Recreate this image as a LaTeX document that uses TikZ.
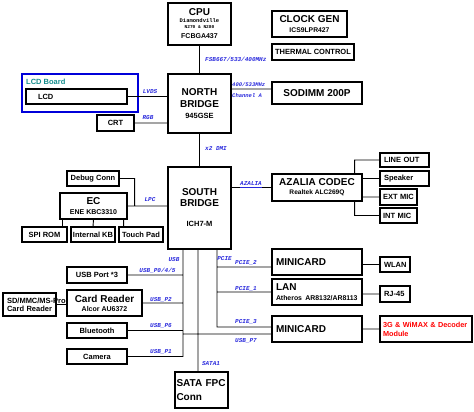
\documentclass[tikz,border=0pt]{standalone}
\usepackage{fontspec}
\setmainfont{Liberation Sans}
\newfontfamily\monofont{Liberation Mono}
\usetikzlibrary{positioning}

\definecolor{boardteal}{RGB}{20,140,140}
\definecolor{busblue}{RGB}{40,40,220}
\newcommand{\fsz}[2]{\fontsize{#1}{#2}\selectfont}

\tikzset{
  blk/.style={rectangle, draw, line width=1.1pt, inner sep=1pt, align=center,
    font=\bfseries\fsz{7.5}{8.5}},
  lbox/.style={blk, inner xsep=4pt, text width=#1, align=left},
  bus/.style={line width=0.9pt},
  lbl/.style={text=busblue, inner sep=0pt,
    font=\monofont\bfseries\itshape\fsz{6}{6}},
}

\begin{document}
\begin{tikzpicture}[x=1pt,y=-1pt]
	\useasboundingbox (0,0) rectangle (474,412);

	% north side
	\node at (199.5,24) [blk, minimum width=63pt, minimum height=42pt, font=\bfseries\fsz{10}{6}] (cpu)
	  {CPU\\[1pt]{\monofont\fsz{5.5}{6}Diamondville}\\{\monofont\fsz{4.5}{6}N270 \& N280}\\[4pt]{\fsz{7}{8}FCBGA437}};
	\node at (309.5,24) [blk, minimum width=75pt, minimum height=26pt, font=\bfseries\fsz{10}{10}] (clk)
	  {CLOCK GEN\\{\fsz{6.8}{8}ICS9LPR427}};
	\node at (313,52) [blk, minimum width=82pt, minimum height=16pt] (therm) {THERMAL CONTROL};
	\node at (199.5,103.5) [blk, minimum width=63pt, minimum height=59pt, font=\bfseries\fsz{10}{12}] (nb)
	  {NORTH\\BRIDGE\\[-1pt]{\fsz{7.5}{9}945GSE}};
	\node at (317,93) [blk, minimum width=90pt, minimum height=22pt, font=\bfseries\fsz{10}{12}] (dimm) {SODIMM 200P};

	\node at (80,93) [rectangle, draw=blue!85!black, line width=2pt, minimum width=116pt, minimum height=38pt] (lcdbrd) {};
	\node at (26,82) [anchor=west, inner sep=0pt, text=boardteal, font=\bfseries\fsz{7.5}{8}] (lcdlbl) {LCD Board};
	\node at (76.5,96.5) [blk, inner xsep=12pt, text width=77pt, minimum height=15pt, align=left] (lcd) {LCD};
	\node at (115.5,123) [blk, minimum width=37pt, minimum height=16pt] (crt) {CRT};

	% south bridge and friends
	\node at (199.5,208) [blk, minimum width=63pt, minimum height=82pt, font=\bfseries\fsz{10}{11}] (sb)
	  {SOUTH\\BRIDGE\\[9pt]{\fsz{7.5}{9}ICH7-M}};
	\node at (93,178.5) [blk, minimum width=52pt, minimum height=15pt] (dbg) {Debug Conn};
	\node at (93.5,206) [blk, minimum width=67pt, minimum height=26pt, font=\bfseries\fsz{10}{10}] (ec)
	  {EC\\{\fsz{7}{8}ENE KBC3310}};
	\node at (44.5,234.5) [blk, minimum width=45pt, minimum height=15pt] (spi) {SPI ROM};
	\node at (93,234.5) [blk, minimum width=44pt, minimum height=15pt] (kb) {Internal KB};
	\node at (141,234.5) [blk, minimum width=44pt, minimum height=15pt] (tpad) {Touch Pad};

	\node at (317,187.5) [blk, minimum width=90pt, minimum height=27pt, font=\bfseries\fsz{10}{9}] (aza)
	  {AZALIA CODEC\\{\fsz{6.6}{8}Realtek ALC269Q}};
	\node at (404.5,160) [lbox=41pt, minimum height=14pt] (lineout) {LINE OUT};
	\node at (404.5,178.5) [lbox=41pt, minimum height=15pt] (spk) {Speaker};
	\node at (398.5,197) [lbox=31pt, inner xsep=3pt, minimum height=16pt] (extmic) {EXT MIC};
	\node at (398.5,215.5) [lbox=31pt, inner xsep=3pt, minimum height=15pt] (intmic) {INT MIC};

	\node at (317,262) [lbox=82pt, minimum height=26pt, font=\bfseries\fsz{10}{12}] (mc1) {MINICARD};
	\node at (395,264.5) [lbox=22pt, minimum height=15pt] (wlan) {WLAN};
	\node at (317,292) [lbox=82pt, minimum height=26pt, font=\bfseries\fsz{10}{10}] (lan)
	  {LAN\\{\fsz{6.9}{8}\mbox{Atheros AR8132/AR8113}}};
	\node at (395,294) [lbox=22pt, minimum height=16pt] (rj) {RJ-45};
	\node at (317,329) [lbox=82pt, minimum height=26pt, font=\bfseries\fsz{10}{12}] (mc2) {MINICARD};
	\node at (426,329) [blk, inner xsep=3pt, text width=86pt, align=left, minimum height=26pt, text=red, font=\bfseries\fsz{7.3}{9}] (wwan) {3G \& WiMAX \& Decoder\\Module};

	\node at (97,275) [blk, minimum width=60pt, minimum height=16pt] (usbp) {USB Port *3};
	\node at (104.5,303) [blk, minimum width=75pt, minimum height=26pt, font=\bfseries\fsz{10}{9}] (card)
	  {Card Reader\\{\fsz{7}{8}Alcor AU6372}};
	\node at (29.5,304.5) [blk, inner xsep=4pt, text width=45pt, align=left, minimum height=23pt, font=\bfseries\fsz{7.5}{8}] (sd) {\mbox{SD/MMC/MS-Pro}\\\mbox{Card Reader}};
	\node at (97,330.5) [blk, minimum width=60pt, minimum height=15pt] (bt) {Bluetooth};
	\node at (97,356.5) [blk, minimum width=60pt, minimum height=15pt] (cam) {Camera};
	\node at (201.5,390) [blk, inner xsep=1.5pt, text width=50pt, align=left, minimum height=36pt, font=\bfseries\fsz{10}{14}] (sata) {SATA FPC\\Conn};

	% bus taps
	\coordinate (memtap) at ([yshift=4pt]dimm.west);
	\coordinate (lpc) at ([xshift=7pt]ec.east);
	\coordinate (azl) at ([xshift=-8pt]aza.north east);
	\coordinate (azr) at ([xshift=-8pt]aza.south east);
	\coordinate (ecl) at ([xshift=3pt]ec.south west);
	\coordinate (ecr) at ([xshift=-4pt]ec.south east);
	\coordinate (usb) at ([xshift=-16.5pt]sb.south);
	\coordinate (sata1) at ([xshift=-1.5pt]sb.south);
	\coordinate (pcie) at ([xshift=17.5pt]sb.south);
	\coordinate (pcie2) at ([yshift=-5pt]mc1.west);
	\coordinate (pcie3) at ([yshift=2pt]mc2.west);
	\coordinate (usb7) at ([yshift=-5pt]mc2.west);

	\draw [bus]
	  (cpu) -- (nb)
	  (lcd.east) -- (lcd.east -| nb.west)
	  (crt.east) -- (crt.east -| nb.west)
	  (memtap) -- (memtap -| nb.east)
	  (nb) -- (sb)
	  (aza.west) -- (aza.west -| sb.east)
	  (azl) |- (lineout.west)
	  (azr) |- (intmic.west)
	  (spk.west) -- (spk.west -| aza.east)
	  (extmic.west) -- (extmic.west -| aza.east)
	  (ec.east) -- (ec.east -| sb.west)
	  (dbg.east) -| (lpc)
	  (ecl) -- (ecl |- spi.north)
	  (ec.south) -- (kb.north)
	  (ecr) -- (ecr |- tpad.north)
	  (wlan.west) -- (wlan.west -| mc1.east)
	  (rj.west) -- (rj.west -| lan.east)
	  (wwan.west) -- (wwan.west -| mc2.east)
	  (sata1) -- (sata1 |- sata.north)
	  (pcie) |- (pcie3)
	  (pcie2 -| pcie) -- (pcie2)
	  (lan.west -| pcie) -- (lan.west)
	  (usb) |- (cam.east)
	  (usbp.east) -- (usbp.east -| usb)
	  (card.east) -- (card.east -| usb)
	  (bt.east) -- (bt.east -| usb)
	  (usb7 -| usb) -- (usb7)
	  (sd.east) -- (sd.east -| card.west)
	;

	% bus names
	\node at (205,59) [lbl, anchor=west] (fsb) {FSB667/533/400MHz};
	\node at (150,92) [lbl] (lvds) {LVDS};
	\node at (148,118) [lbl] (rgb) {RGB};
	\node at (232,85) [lbl, anchor=west, font=\monofont\bfseries\itshape\fsz{5.5}{6}] (ddr) {400/533MHz};
	\node at (232,96) [lbl, anchor=west, font=\monofont\bfseries\itshape\fsz{5.5}{6}] (cha) {Channel A};
	\node at (205,148) [lbl, anchor=west] (dmi) {x2 DMI};
	\node at (251,185) [lbl] (hda) {\underline{AZALIA}};
	\node at (150,200) [lbl] (lpclbl) {LPC};
	\node at (174,260) [lbl] (usblbl) {USB};
	\node at (224.5,259) [lbl] (pcielbl) {PCIE};
	\node at (246,263) [lbl] (p2lbl) {PCIE\_2};
	\node at (246,289) [lbl] (p1lbl) {PCIE\_1};
	\node at (246,322) [lbl] (p3lbl) {PCIE\_3};
	\node at (246,341) [lbl] (u7lbl) {USB\_P7};
	\node at (157.5,271) [lbl] (u0lbl) {USB\_P0/4/5};
	\node at (161,300) [lbl] (u2lbl) {USB\_P2};
	\node at (161,326) [lbl] (u6lbl) {USB\_P6};
	\node at (161,352) [lbl] (u1lbl) {USB\_P1};
	\node at (211,364) [lbl] (satalbl) {SATA1};

\end{tikzpicture}
\end{document}
